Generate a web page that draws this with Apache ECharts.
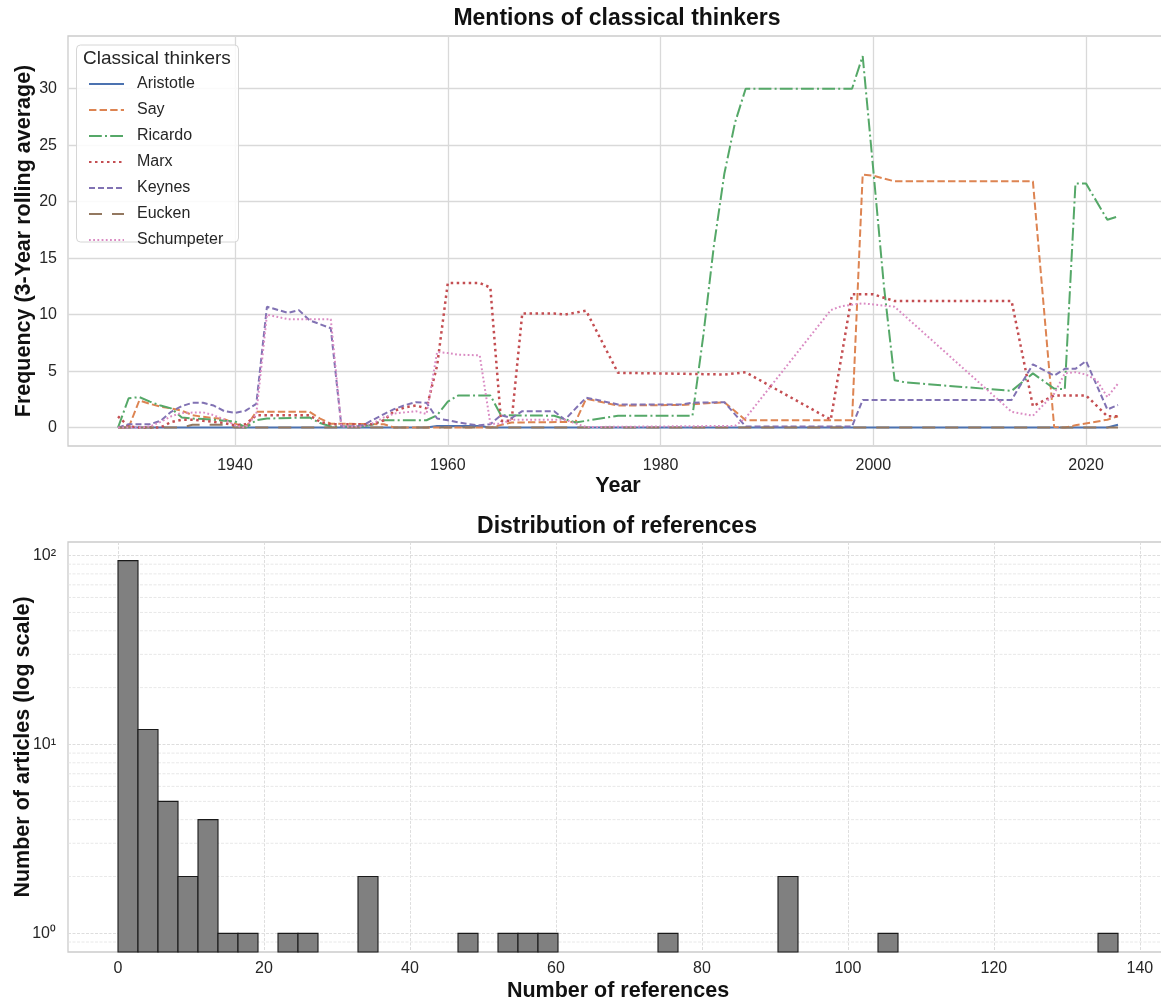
<!DOCTYPE html>
<html>
<head>
<meta charset="utf-8">
<script src="https://cdn.jsdelivr.net/npm/echarts@6/dist/echarts.min.js"></script>
<style>
  html, body { margin: 0; padding: 0; background: #ffffff; }
  #chart { width: 1161px; height: 1001px; }
</style>
</head>
<body>
<div id="chart"></div>
<script>
// ---- Mentions of classical thinkers: 3-year rolling averages, [year, frequency] ----
const ARISTOTLE = [[1929,0],[1958,0],[1959,0.15],[1963,0.15],[1964,0],[2022,0],[2023,0.25]];
const SAY = [[1929,0],[1930,0],[1931,2.4],[1932,2.1],[1933,1.85],[1934,1.7],[1935,1.5],[1936,1.1],[1937,0.95],[1938,0.85],[1939,0.75],[1940,0.35],[1941,0],[1942,1.4],[1947,1.4],[1948,0.8],[1949,0.35],[1954,0.3],[1955,0],[1964,0],[1966,0.45],[1972,0.5],[1973,2.55],[1976,1.95],[1982,2.0],[1986,2.25],[1988,0.65],[1998,0.65],[1999,22.4],[2000,22.3],[2002,21.8],[2015,21.8],[2017,0.05],[2018,0],[2019,0.2],[2022,0.7],[2023,1.0]];
const RICARDO = [[1929,0],[1930,2.6],[1931,2.7],[1932,2.3],[1933,1.95],[1934,1.7],[1935,0.9],[1936,0.8],[1937,0.75],[1938,0.7],[1939,0.6],[1940,0.55],[1941,0],[1942,0.65],[1943,0.8],[1947,0.9],[1948,0.4],[1949,0.1],[1952,0.1],[1953,0.3],[1954,0.65],[1958,0.65],[1959,1.1],[1960,2.3],[1961,2.85],[1964,2.85],[1965,1.1],[1970,1.05],[1972,0.45],[1976,1.05],[1983,1.05],[1984,8],[1985,16],[1986,22.5],[1987,27],[1988,30],[1998,30],[1999,32.9],[2000,22.8],[2001,12.5],[2002,4.2],[2003,4.0],[2013,3.25],[2015,4.8],[2017,3.45],[2018,3.4],[2019,21.6],[2020,21.6],[2022,18.4],[2023,18.7]];
const MARX = [[1929,1.0],[1930,0.1],[1931,0],[1933,0],[1934,0.5],[1935,0.7],[1936,0.7],[1937,0.6],[1938,0.5],[1939,0.4],[1940,0.2],[1941,0.3],[1942,1.1],[1947,1.1],[1948,0.5],[1949,0.3],[1953,0.3],[1954,0.65],[1955,1.5],[1956,1.8],[1957,1.95],[1958,1.7],[1959,5.5],[1960,12.8],[1963,12.8],[1964,12.4],[1965,0.6],[1966,0.6],[1967,10.1],[1970,10.1],[1971,10.0],[1973,10.35],[1976,4.85],[1983,4.75],[1986,4.7],[1988,4.9],[1996,0.7],[1998,11.8],[2000,11.8],[2002,11.2],[2013,11.2],[2015,1.9],[2017,2.85],[2020,2.85],[2022,1.0],[2023,1.0]];
const KEYNES = [[1929,0],[1930,0.3],[1932,0.3],[1933,0.6],[1934,1.4],[1935,1.9],[1936,2.2],[1937,2.2],[1938,1.95],[1939,1.45],[1940,1.3],[1941,1.5],[1942,2.1],[1943,10.7],[1945,10.15],[1946,10.4],[1947,9.5],[1949,8.8],[1950,0.1],[1951,0.1],[1952,0.2],[1953,0.7],[1954,1.2],[1955,1.65],[1956,2.0],[1957,2.25],[1958,2.2],[1959,0.8],[1960,0.65],[1961,0.45],[1962,0.3],[1963,0.2],[1964,0.3],[1965,1.1],[1966,0.85],[1967,1.45],[1970,1.45],[1971,0.7],[1973,2.65],[1976,2.05],[1982,2.05],[1983,2.2],[1986,2.25],[1988,0.1],[1998,0.1],[1999,2.45],[2013,2.45],[2015,5.6],[2017,4.6],[2018,5.2],[2019,5.2],[2020,5.9],[2022,1.6],[2023,2.0]];
const EUCKEN = [[1929,0],[1935,0],[1936,0.25],[1939,0.25],[1940,0],[2023,0]];
const SCHUMPETER = [[1929,0],[1931,0],[1932,0.1],[1933,0.5],[1934,1.0],[1935,1.3],[1937,1.35],[1938,1.1],[1939,0.7],[1940,0.2],[1941,0],[1942,1.2],[1943,10.0],[1945,9.6],[1949,9.6],[1950,0.1],[1952,0.1],[1953,0.4],[1954,0.9],[1955,1.25],[1957,1.45],[1958,1.2],[1959,6.7],[1960,6.6],[1961,6.45],[1963,6.4],[1964,0.35],[1965,0.35],[1966,0.7],[1971,0.7],[1973,0.05],[1987,0.15],[1988,0.85],[1996,10.4],[1997,10.75],[1999,11.0],[2000,10.9],[2002,10.7],[2013,1.4],[2015,1.05],[2017,3.0],[2018,4.8],[2019,4.9],[2020,4.7],[2021,4.2],[2022,2.7],[2023,3.9]];

const THINKERS = ['Aristotle', 'Say', 'Ricardo', 'Marx', 'Keynes', 'Eucken', 'Schumpeter'];
const THINKER_DATA = [ARISTOTLE, SAY, RICARDO, MARX, KEYNES, EUCKEN, SCHUMPETER];

// ---- Distribution of references: 50 equal-width bins over [0, 137] ----
const REF_MIN = 0;
const REF_MAX = 137;
const REF_COUNTS = [94, 12, 5, 2, 4, 1, 1, 0, 1, 1,
                    0, 0, 2, 0, 0, 0, 0, 1, 0, 1,
                    1, 1, 0, 0, 0, 0, 0, 1, 0, 0,
                    0, 0, 0, 2, 0, 0, 0, 0, 1, 0,
                    0, 0, 0, 0, 0, 0, 0, 0, 0, 1];

// ---- tick labels ----
const YEAR_TICKS = [1940, 1960, 1980, 2000, 2020];
const FREQ_TICKS = [0, 5, 10, 15, 20, 25, 30];
const REF_TICKS = [0, 20, 40, 60, 80, 100, 120, 140];
const LOG_TICKS = [1, 10, 100];
const LOG_MINOR = [0.9, 2, 3, 4, 5, 6, 7, 8, 9, 20, 30, 40, 50, 60, 70, 80, 90];

// ---- styling ----
const FONT = "'Liberation Sans', Arial, Helvetica, sans-serif";
const COLORS = ['#4C72B0', '#DD8452', '#55A868', '#C44E52', '#8172B3', '#937860', '#DA8BC3'];
const DASHES = [
  'solid',
  [7.4, 3.2],
  [12.8, 3.2, 2, 3.2],
  [2.5, 3.5],
  [6, 3],
  [13, 10],
  [1.8, 2.4]
];
const WIDTHS = [2, 2, 2, 2.5, 2, 2, 2];

const bins = REF_COUNTS.map((c, i) => {
  const w = (REF_MAX - REF_MIN) / REF_COUNTS.length;
  return [REF_MIN + i * w, REF_MIN + (i + 1) * w, c];
}).filter(b => b[2] > 0);

const SUP = { '0': '\u2070', '1': '\u00B9', '2': '\u00B2', '3': '\u00B3' };

const chart = echarts.init(document.getElementById('chart'), null, { renderer: 'canvas' });

const tickLabel = { fontFamily: FONT, fontSize: 16, color: '#262626' };
const axisNameStyle = { fontFamily: FONT, fontSize: 21.5, fontWeight: 'bold', color: '#111' };

const lineSeries = THINKERS.map((name, i) => ({
  name: name,
  type: 'line',
  xAxisIndex: 0,
  yAxisIndex: 0,
  data: THINKER_DATA[i],
  symbol: 'none',
  showSymbol: false,
  smooth: false,
  animation: false,
  color: COLORS[i],
  lineStyle: { color: COLORS[i], width: WIDTHS[i], type: DASHES[i] },
  z: 2
}));

const gridBase = { show: true, borderColor: '#cccccc', borderWidth: 1.3, backgroundColor: 'transparent', containLabel: false, outerBoundsMode: 'none' };

const option = {
  backgroundColor: '#ffffff',
  animation: false,
  textStyle: { fontFamily: FONT },
  grid: [
    Object.assign({ left: 68, top: 36, right: -7, bottom: 555 }, gridBase),
    Object.assign({ left: 68, top: 542, right: -7, bottom: 49 }, gridBase)
  ],
  xAxis: [
    {
      gridIndex: 0, type: 'value', min: 1924.3, max: 2027.7,
      name: 'Year', nameLocation: 'middle', nameGap: 29, nameMoveOverlap: false, nameTextStyle: axisNameStyle,
      axisLine: { show: false }, axisTick: { show: false, customValues: YEAR_TICKS },
      axisLabel: Object.assign({ margin: 12, customValues: YEAR_TICKS, formatter: v => String(v) }, tickLabel),
      splitLine: { show: true, lineStyle: { color: '#d9d9d9', width: 1.3 } }
    },
    {
      gridIndex: 1, type: 'value', min: -6.85, max: 143.85,
      name: 'Number of references', nameLocation: 'middle', nameGap: 28, nameMoveOverlap: false, nameTextStyle: axisNameStyle,
      axisLine: { show: false }, axisTick: { show: false, customValues: REF_TICKS },
      axisLabel: Object.assign({ margin: 9, customValues: REF_TICKS, formatter: v => String(v) }, tickLabel),
      splitLine: { show: true, lineStyle: { color: '#dadada', width: 0.9, type: [3, 1.5] } }
    }
  ],
  yAxis: [
    {
      gridIndex: 0, type: 'value', min: -1.63, max: 34.67,
      name: 'Frequency (3-Year rolling average)', nameLocation: 'middle', nameGap: 33, nameRotate: 90,
      nameMoveOverlap: false, nameTextStyle: axisNameStyle,
      axisLine: { show: false }, axisTick: { show: false, customValues: FREQ_TICKS },
      axisLabel: Object.assign({ margin: 11, customValues: FREQ_TICKS, formatter: v => String(v) }, tickLabel),
      splitLine: { show: true, lineStyle: { color: '#d9d9d9', width: 1.3 } }
    },
    {
      gridIndex: 1, type: 'log', logBase: 10, min: 0.797, max: 118,
      name: 'Number of articles (log scale)', nameLocation: 'middle', nameGap: 34, nameRotate: 90,
      nameMoveOverlap: false, nameTextStyle: axisNameStyle,
      axisLine: { show: false }, axisTick: { show: false, customValues: LOG_TICKS },
      axisLabel: Object.assign({
        margin: 12, customValues: LOG_TICKS,
        formatter: v => '10' + String(Math.round(Math.log10(v))).split('').map(d => SUP[d]).join('')
      }, tickLabel),
      splitLine: { show: true, lineStyle: { color: '#dadada', width: 0.9, type: [3, 1.5] } }
    }
  ],
  legend: {
    orient: 'vertical',
    left: 77, top: 45,
    padding: [31, 10, 8, 11],
    itemWidth: 35, itemHeight: 14, itemGap: 10,
    data: THINKERS,
    itemStyle: { opacity: 0 },
    textStyle: { fontFamily: FONT, fontSize: 16, color: '#262626', padding: [0, 0, 0, 8] },
    backgroundColor: 'transparent',
    borderWidth: 0,
    z: 6
  },
  graphic: [
    {
      type: 'rect', z: 5, silent: true,
      shape: { x: 76.5, y: 45, width: 162, height: 197, r: 4 },
      style: { fill: 'rgba(255,255,255,0.85)', stroke: '#d6d6d6', lineWidth: 1 }
    },
    {
      type: 'text', z: 6, silent: true, x: 83, y: 59,
      style: { text: 'Classical thinkers', font: '19px ' + FONT, fill: '#262626', textAlign: 'left', textVerticalAlign: 'middle', verticalAlign: 'middle' }
    },
    {
      type: 'text', z: 6, silent: true, x: 617, y: 19,
      style: { text: 'Mentions of classical thinkers', font: 'bold 23px ' + FONT, fill: '#111', textAlign: 'center', textVerticalAlign: 'middle', verticalAlign: 'middle' }
    },
    {
      type: 'text', z: 6, silent: true, x: 617, y: 527,
      style: { text: 'Distribution of references', font: 'bold 23px ' + FONT, fill: '#111', textAlign: 'center', textVerticalAlign: 'middle', verticalAlign: 'middle' }
    }
  ],
  series: lineSeries.concat([
    {
      // minor decade gridlines of the log axis
      name: 'minor-grid',
      type: 'custom',
      xAxisIndex: 1, yAxisIndex: 1,
      silent: true, z: 1,
      data: LOG_MINOR.map(v => [0, v]),
      encode: { x: 0, y: 1 },
      renderItem: function (params, api) {
        const cs = params.coordSys;
        const y = api.coord([0, api.value(1)])[1];
        return {
          type: 'line',
          shape: { x1: cs.x, y1: y, x2: cs.x + cs.width, y2: y },
          style: { stroke: '#e2e2e2', lineWidth: 0.8, lineDash: [3, 1.5] }
        };
      }
    },
    {
      name: 'Articles',
      type: 'custom',
      xAxisIndex: 1, yAxisIndex: 1,
      z: 3,
      data: bins,
      encode: { x: [0, 1], y: 2 },
      renderItem: function (params, api) {
        const cs = params.coordSys;
        const p0 = api.coord([api.value(0), api.value(2)]);
        const p1 = api.coord([api.value(1), api.value(2)]);
        const base = cs.y + cs.height;
        return {
          type: 'rect',
          shape: { x: p0[0], y: p0[1], width: p1[0] - p0[0], height: base - p0[1] },
          style: { fill: '#808080', stroke: '#1a1a1a', lineWidth: 1.1 }
        };
      }
    }
  ])
};

chart.setOption(option);
</script>
</body>
</html>
